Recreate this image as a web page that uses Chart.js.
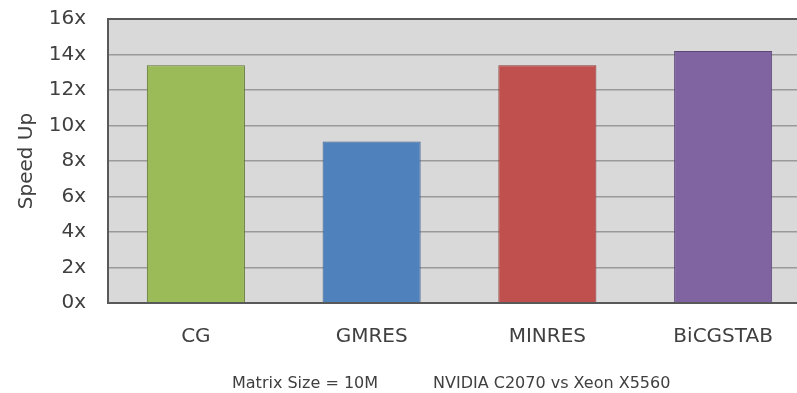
<!DOCTYPE html>
<html>
<head>
<meta charset="utf-8">
<script src="https://cdn.jsdelivr.net/npm/chart.js@4/dist/chart.umd.min.js"></script>
<style>
  html, body { margin: 0; padding: 0; background: #ffffff; overflow: hidden; }
  #wrap { width: 797px; height: 393px; overflow: hidden; position: relative; }
  canvas { display: block; }
</style>
</head>
<body>
<div id="wrap"><canvas id="chart" width="820" height="393"></canvas></div>
<script>
// Solver speed-up, GPU vs CPU
const categories = ['CG', 'GMRES', 'MINRES', 'BiCGSTAB'];
const speedUp = [13.4, 9.1, 13.4, 14.2];
const barColors = ['#9bbb59', '#4f81bd', '#c0504d', '#8064a2'];
const barBorders = ['#5f7530', '#385d8a', '#8c3836', '#5c4776'];
const yAxisTitle = 'Speed Up';
const footnotes = ['Matrix Size = 10M', 'NVIDIA C2070 vs Xeon X5560'];

const textColor = '#404040';
const fontFamily = '"DejaVu Sans", Verdana, sans-serif';

// Grey plot background, frame and footnotes
const plotDecor = {
  id: 'plotDecor',
  beforeDraw(chart) {
    const { ctx, chartArea: a } = chart;
    ctx.save();
    ctx.fillStyle = '#d9d9d9';
    ctx.fillRect(a.left, a.top, a.right - a.left, a.bottom - a.top);
    ctx.restore();
  },
  afterDraw(chart) {
    const { ctx, chartArea: a } = chart;
    ctx.save();
    ctx.strokeStyle = '#595959';
    ctx.lineWidth = 2;
    ctx.strokeRect(a.left, a.top, a.right - a.left, a.bottom - a.top);
    ctx.fillStyle = textColor;
    ctx.font = '16px ' + fontFamily;
    ctx.textBaseline = 'alphabetic';
    ctx.textAlign = 'left';
    ctx.fillText(footnotes[0], 232, 388);
    ctx.fillText(footnotes[1], 433, 388);
    ctx.restore();
  }
};

new Chart(document.getElementById('chart'), {
  type: 'bar',
  data: {
    labels: categories,
    datasets: [{
      data: speedUp,
      backgroundColor: barColors,
      borderColor: barBorders,
      borderWidth: 1,
      barPercentage: 0.558,
      categoryPercentage: 1
    }]
  },
  options: {
    responsive: false,
    animation: false,
    devicePixelRatio: 1,
    layout: { padding: { top: 19, right: 9, bottom: 0, left: 0 } },
    plugins: {
      legend: { display: false },
      tooltip: { enabled: false }
    },
    scales: {
      x: {
        grid: { display: false, drawTicks: false },
        border: { display: false },
        ticks: {
          color: textColor,
          font: { family: fontFamily, size: 20 },
          padding: 22
        },
        afterFit(scale) { scale.height = 90; }
      },
      y: {
        min: 0,
        max: 16,
        grid: { color: '#9a9a9a', lineWidth: 1.5, drawTicks: false },
        border: { display: false },
        ticks: {
          stepSize: 2,
          color: textColor,
          font: { family: fontFamily, size: 20 },
          padding: 22,
          callback: v => v + 'x'
        },
        title: {
          display: true,
          text: yAxisTitle,
          color: textColor,
          font: { family: fontFamily, size: 20 },
          padding: { top: 15, bottom: 0 }
        },
        afterFit(scale) {
          scale.width = 108;
          // top label may overhang into the layout padding
          scale.paddingTop = 0;
          scale.paddingBottom = 0;
        }
      }
    }
  },
  plugins: [plotDecor]
});
</script>
</body>
</html>
